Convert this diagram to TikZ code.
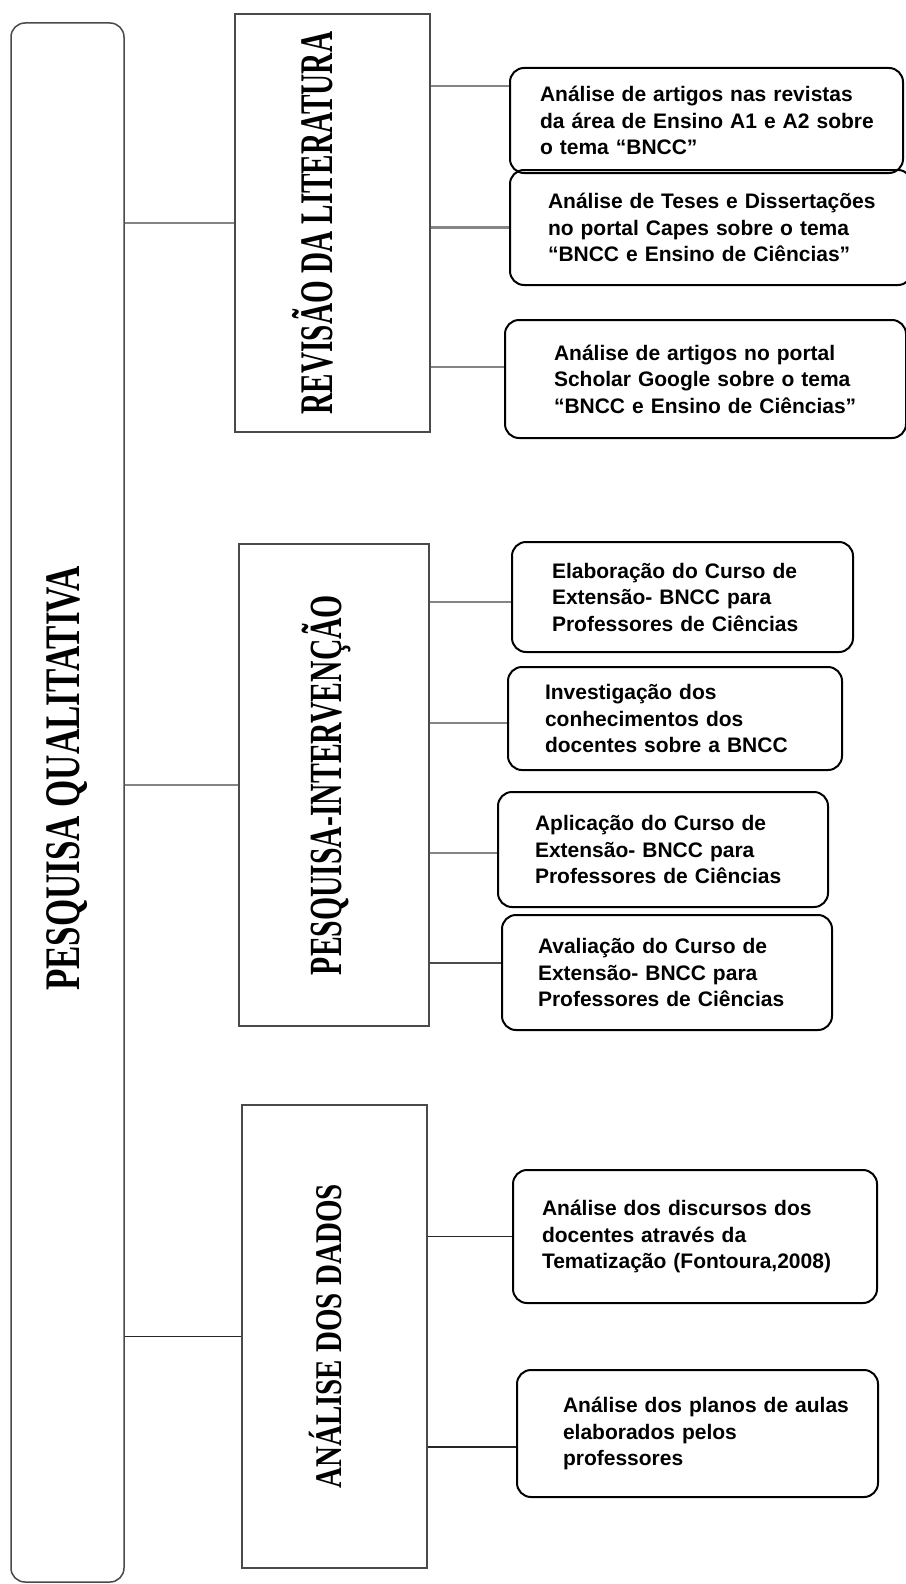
\documentclass[tikz,border=0pt]{standalone}
\usepackage{fontspec}
\setmainfont{Liberation Serif}
\setsansfont{Liberation Sans}
\usepackage{graphicx}
\usetikzlibrary{positioning}
\definecolor{linkgray}{HTML}{858585}
\definecolor{framegray}{HTML}{4A4A4A}
\newcommand{\vlabel}[2]{\rotatebox{90}{\scalebox{1}[#1]{#2}}}
\tikzset{
  mainbox/.style={draw=framegray, line width=1.5pt, rounded corners=14pt, inner sep=0pt},
  phasebox/.style={draw=framegray, line width=1.4pt, inner sep=0pt, font=\bfseries},
  leafbox/.style={draw=black, line width=2pt, rounded corners=14pt, align=left,
                  inner xsep=0pt, font=\sffamily\bfseries\fontsize{21}{26.5}\selectfont},
  lpad/.style={execute at begin node={\leftskip=#1}},
  link/.style={draw=linkgray, line width=2.8pt},
  thinlink/.style={draw=black!85, line width=1.3pt}}

\begin{document}
\begin{tikzpicture}[x=1pt, y=-1pt]
  \useasboundingbox (0,0) rectangle (905,1584);
  % outer frame
  \node[mainbox, minimum width=113pt, minimum height=1559pt] (main) at (67.5,802.5)
    {\fontsize{35}{36}\selectfont\bfseries\vlabel{1.42}{\hspace*{48pt}PESQUISA QUALITATIVA}};
  % the three phases
  \node[phasebox, minimum width=195pt, minimum height=418pt] (rev) at (332.5,223)
    {\fontsize{29.2}{30}\selectfont\vlabel{1.6}{REVISÃO DA LITERATURA}\hspace*{40pt}};
  \node[phasebox, minimum width=190pt, minimum height=482pt] (pint) at (334,785)
    {\fontsize{29.7}{30}\selectfont\vlabel{1.55}{PESQUISA-INTERVENÇÃO}\hspace*{16pt}};
  \node[phasebox, minimum width=185pt, minimum height=463pt] (anal) at (334.5,1336.5)
    {\fontsize{29}{30}\selectfont\vlabel{1.3}{ANÁLISE DOS DADOS}\hspace*{18pt}};
  \draw[link] (main.east |- rev.west) -- (rev.west);
  \draw[link] (main.east |- pint.west) -- (pint.west);
  \draw[thinlink] (main.east |- anal.west) -- (anal.west);
  % literature review
  \node[leafbox, text width=393pt, minimum height=105pt, lpad=30pt] (lit1) at (706.5,120.5)
    {Análise de artigos nas revistas\\ da área de Ensino A1 e A2 sobre\\ o tema “BNCC”};
  \node[leafbox, text width=402pt, minimum height=115pt, lpad=38pt] (lit2) at (711,227.5)
    {Análise de Teses e Dissertações\\ no portal Capes sobre o tema\\ “BNCC e Ensino de Ciências”};
  \node[leafbox, text width=401pt, minimum height=118pt, lpad=49pt] (lit3) at (705.5,379)
    {Análise de artigos no portal\\ Scholar Google sobre o tema\\ “BNCC e Ensino de Ciências”};
  \draw[link] ([yshift=34.5pt]lit1.west) -- ([yshift=34.5pt]lit1.west -| rev.east);
  \draw[link] (lit2.west) -- (lit2.west -| rev.east);
  \draw[link] ([yshift=12pt]lit3.west) -- ([yshift=12pt]lit3.west -| rev.east);
  % intervention
  \node[leafbox, text width=341pt, minimum height=110pt, lpad=40pt] (int1) at (682.5,597)
    {Elaboração do Curso de\\ Extensão- BNCC para\\ Professores de Ciências};
  \node[leafbox, text width=334pt, minimum height=103pt, lpad=37pt] (int2) at (675,718.5)
    {Investigação dos\\ conhecimentos dos\\ docentes sobre a BNCC};
  \node[leafbox, text width=330pt, minimum height=115pt, lpad=37pt] (int3) at (663,849.5)
    {Aplicação do Curso de\\ Extensão- BNCC para\\ Professores de Ciências};
  \node[leafbox, text width=330pt, minimum height=115pt, lpad=36pt] (int4) at (667,972.5)
    {Avaliação do Curso de\\ Extensão- BNCC para\\ Professores de Ciências};
  \draw[link] ([yshift=-5pt]int1.west) -- ([yshift=-5pt]int1.west -| pint.east);
  \draw[link] ([yshift=-4.5pt]int2.west) -- ([yshift=-4.5pt]int2.west -| pint.east);
  \draw[link] ([yshift=-3.5pt]int3.west) -- ([yshift=-3.5pt]int3.west -| pint.east);
  \draw[thinlink, draw=black!70] ([yshift=9.5pt]int4.west) -- ([yshift=9.5pt]int4.west -| pint.east);
  % data analysis
  \node[leafbox, text width=364pt, minimum height=133pt, lpad=29pt] (dad1) at (695,1236.5)
    {Análise dos discursos dos\\ docentes através da\\ Tematização (Fontoura,2008)};
  \node[leafbox, text width=361pt, minimum height=127pt, lpad=46pt] (dad2) at (697.5,1433.5)
    {Análise dos planos de aulas\\ elaborados pelos\\ professores};
  \draw[thinlink] (dad1.west) -- (dad1.west -| anal.east);
  \draw[thinlink] ([yshift=-13.5pt]dad2.west) -- ([yshift=-13.5pt]dad2.west -| anal.east);
\end{tikzpicture}
\end{document}
